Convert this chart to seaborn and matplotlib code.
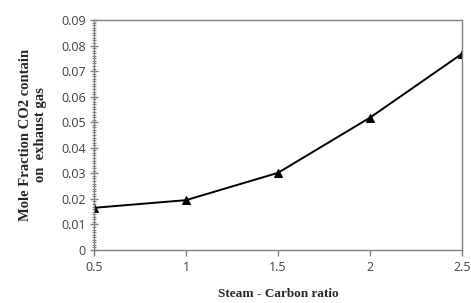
import matplotlib
matplotlib.use('Agg')
import matplotlib.pyplot as plt
import seaborn as sns
import pandas as pd
from matplotlib.ticker import MultipleLocator

# данные с графика
steam_carbon = [0.5, 1.0, 1.5, 2.0, 2.5]
co2_fraction = [0.0165, 0.0195, 0.0302, 0.0518, 0.0768]

df = pd.DataFrame({'ratio': steam_carbon, 'co2': co2_fraction})

sns.set_style('white')
fig = plt.figure(figsize=(4.71, 3.03), dpi=100)
ax = fig.add_axes([0.1996, 0.175, 0.7814, 0.759])

sns.lineplot(data=df, x='ratio', y='co2', ax=ax, color='black', linewidth=1.4,
             marker='^', markersize=6, markeredgecolor='black')

ax.set_xlim(0.5, 2.5)
ax.set_ylim(0, 0.09)
ax.set_xticks(steam_carbon)
ax.set_xticklabels(['0.5', '1', '1.5', '2', '2.5'])
ax.set_yticks([i / 100 for i in range(10)])
ax.set_yticklabels(['0'] + ['0.0%d' % i for i in range(1, 10)])
ax.yaxis.set_minor_locator(MultipleLocator(0.001))

for s in ax.spines.values():
    s.set_color('#808080')
    s.set_linewidth(1.0)

ax.tick_params(axis='y', which='major', direction='inout', length=6, width=1, color='#808080',
               labelsize=9, labelcolor='#404040', pad=3, left=True)
ax.tick_params(axis='y', which='minor', direction='inout', length=3, width=0.7, color='#808080', left=True)
ax.tick_params(axis='x', which='major', direction='out', length=4, width=1, color='#808080',
               labelsize=9, labelcolor='#404040', pad=4, bottom=True)
for lab in ax.get_xticklabels() + ax.get_yticklabels():
    lab.set_family(['Open Sans', 'DejaVu Sans'])

ax.set_xlabel('Steam - Carbon ratio', fontsize=9.5, fontweight='bold',
              family='Liberation Serif', labelpad=10)
ax.set_ylabel('Mole Fraction CO2 contain\non  exhaust gas', fontsize=10.5, fontweight='bold',
              family='Liberation Serif', labelpad=10, linespacing=1.2)

plt.savefig('out.png', dpi=100)
